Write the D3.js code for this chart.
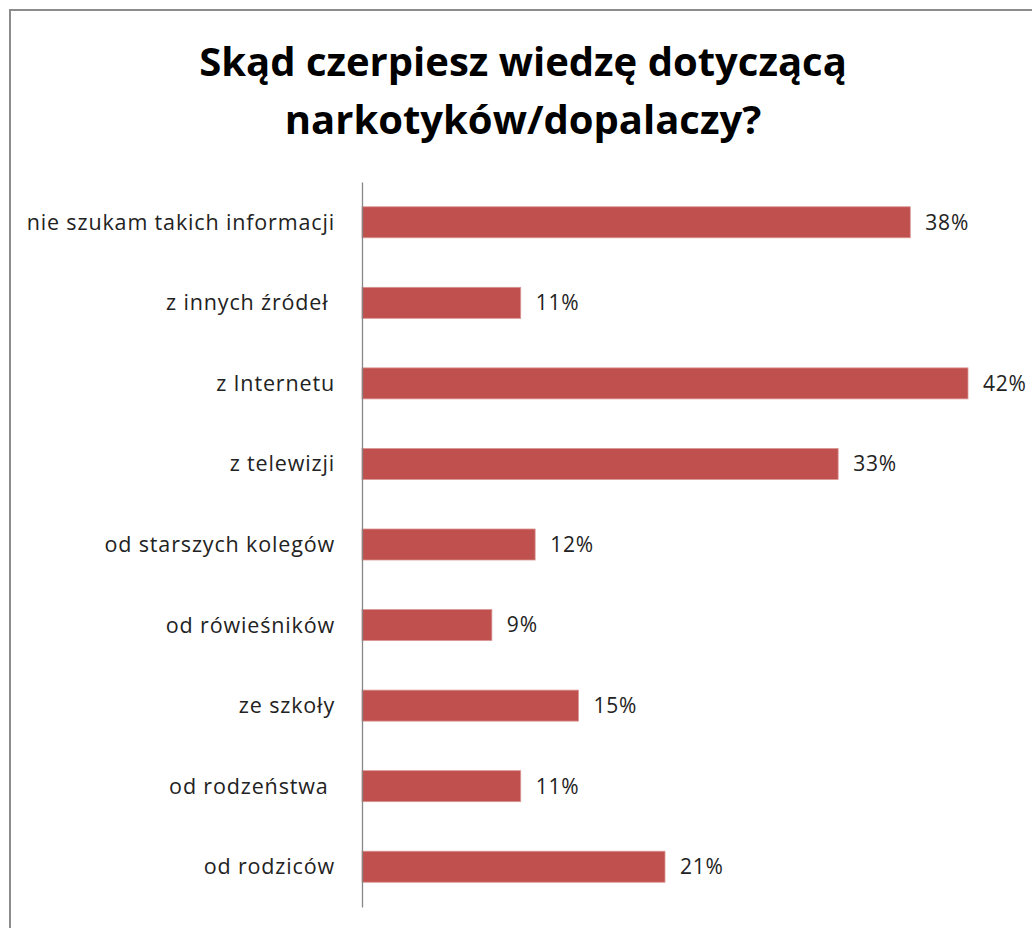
<!DOCTYPE html>
<html><head><meta charset="utf-8">
<script src="https://cdn.jsdelivr.net/npm/d3@7"></script>
<style>body{margin:0;background:#fff;} svg{display:block;}</style>
</head><body>
<script>
const categories = ["nie szukam takich informacji","z innych źródeł ","z Internetu","z telewizji","od starszych kolegów","od rówieśników","ze szkoły","od rodzeństwa ","od rodziców"];
const values = [38, 11, 42, 33, 12, 9, 15, 11, 21];
const titleLines = ["Skąd czerpiesz wiedzę dotyczącą","narkotyków/dopalaczy?"];

const W = 1032, H = 928;
const FONT = "'Open Sans', Lato, sans-serif";
const svg = d3.select("body").append("svg").attr("width", W).attr("height", H);
svg.append("rect").attr("x",10).attr("y",10).attr("width",1040).attr("height",1000)
  .attr("fill","#fff").attr("stroke","#8c8c8c").attr("stroke-width",2);

svg.selectAll("text.title").data(titleLines).join("text").attr("class","title")
  .attr("x", 523).attr("y",(d,i)=>76+i*58).attr("text-anchor","middle")
  .attr("font-family",FONT).attr("font-weight","bold")
  .attr("font-size",40).attr("fill","#000").text(d=>d);

const x = d3.scaleLinear().domain([0,42]).range([362,968]);
const y = d3.scaleBand().domain(categories).range([182,907]).paddingInner(0.615).paddingOuter(0.3075);

svg.selectAll("rect.bar").data(values).join("rect").attr("class","bar")
  .attr("x", x(0)).attr("y",(d,i)=>y(categories[i]))
  .attr("width", d=>x(d)-x(0)).attr("height", y.bandwidth())
  .attr("fill","#c0504d").attr("stroke","#d99694").attr("stroke-width",0.8);

svg.selectAll("text.val").data(values).join("text").attr("class","val")
  .attr("x", d=>x(d)+15).attr("y",(d,i)=>y(categories[i])+y.bandwidth()/2)
  .attr("dy","0.35em").attr("font-family",FONT).attr("letter-spacing",0.8)
  .attr("font-size",21).attr("fill","#222").text(d=>d+"%");

const yAxis = d3.axisLeft(y).tickSize(0).tickPadding(27);
const g = svg.append("g").attr("transform",`translate(${x(0)},0)`).call(yAxis);
g.select(".domain").attr("stroke","#878787").attr("stroke-width",1.3);
g.selectAll("text").attr("font-family",FONT).attr("font-size",21.5).attr("letter-spacing",0.85).attr("fill","#222")
  .attr("dy","0.35em").style("white-space","pre");
</script>
</body></html>
